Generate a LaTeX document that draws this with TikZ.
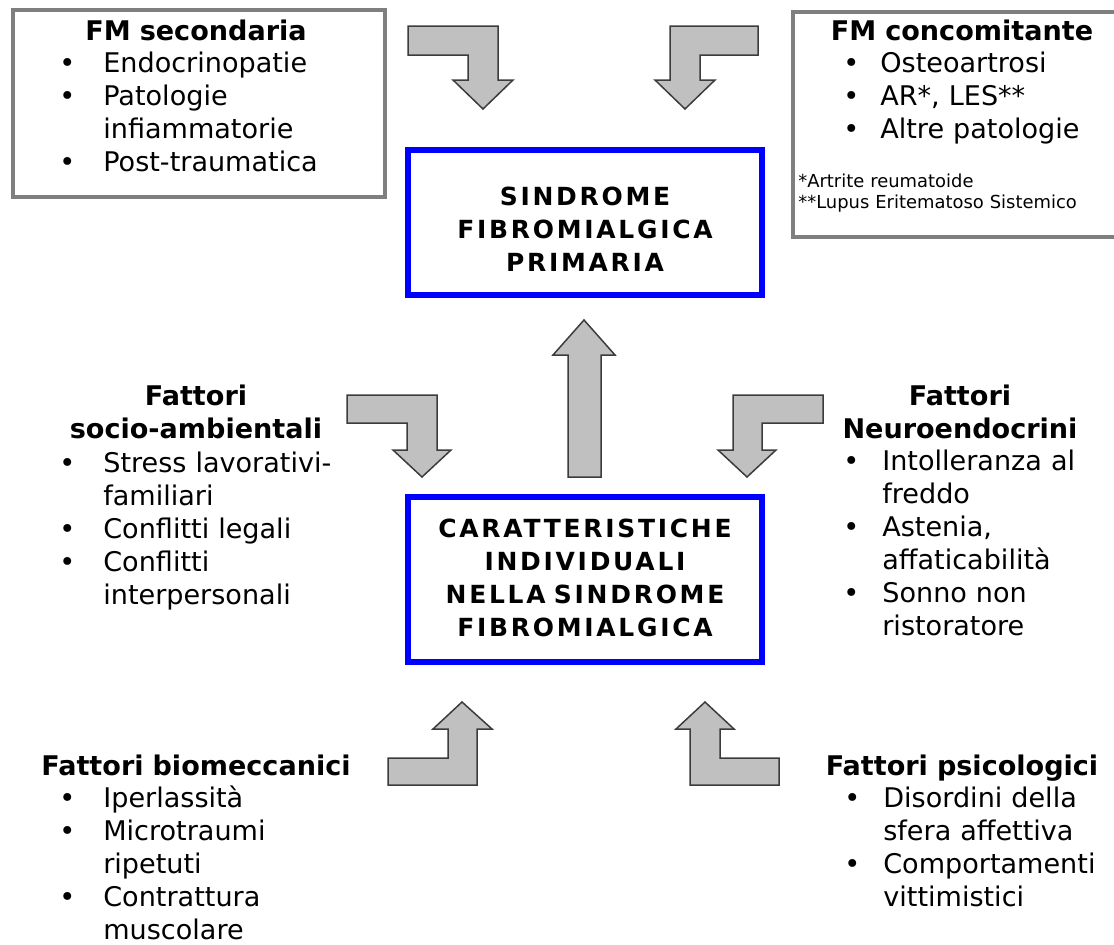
\documentclass[tikz,border=0pt]{standalone}
\usepackage{fontspec}
\setmainfont{DejaVu Sans}
\newfontfamily\capsfont{DejaVu Sans}[LetterSpace=11]
\usepackage{xcolor}
\usepackage{tikz}
\definecolor{boxgrey}{HTML}{7F7F7F}
\definecolor{arrfill}{HTML}{C0C0C0}
\definecolor{arrline}{HTML}{3C3C3C}
\definecolor{frameblue}{HTML}{0000FF}
\newlength{\bltw}
\newcommand{\blt}{\makebox[\bltw][l]{\textbullet}}
\newcommand{\hng}{\hspace*{\bltw}}
\newcommand{\bodysize}{\fontsize{15.4pt}{18.8pt}\selectfont}
\newcommand{\capsize}{\fontsize{14.2pt}{18.8pt}\selectfont}
\newcommand{\notesize}{\fontsize{10.2pt}{12pt}\selectfont}
\tikzset{
  greybox/.style={draw=boxgrey, line width=0.8mm, inner sep=0pt},
  bluebox/.style={draw=frameblue, line width=1.2mm, inner sep=0pt},
  blockarr/.style={fill=arrfill, draw=arrline, line width=0.3mm, line join=miter},
  ttl/.style={inner sep=0pt, font=\bodysize\bfseries, text width=70mm, align=center, anchor=base},
  lst/.style={inner sep=0pt, font=\bodysize, text width=58mm, align=left, anchor=base west,
    execute at begin node={\setlength{\bltw}{#1}}},
  boxtxt/.style={inner sep=0pt, font=\capsize\capsfont\bfseries, text width=70mm, align=center, anchor=base},
  note/.style={inner sep=0pt, font=\notesize, text width=62mm, align=left, anchor=base west},
}

\begin{document}
\begin{tikzpicture}[x=0.2mm, y=-0.2mm]
  \useasboundingbox (0,0) rectangle (1114,945);

  % frames
  \node[greybox, minimum width=74.4mm, minimum height=37.4mm] (secbox) at (199,103.5) {};
  \draw[greybox] (1114,12) -- (793,12) -- (793,237) -- (1114,237); % cut by the page edge
  \node[bluebox, minimum width=70.8mm, minimum height=29mm] (primbox) at (585,222.5) {};
  \node[bluebox, minimum width=70.8mm, minimum height=33mm] (caratbox) at (585,579.5) {};

  % block arrows
  \draw[blockarr] (408,26) -- (498,26) -- (498,80) -- (513,80) -- (483,109) -- (453,80)
    -- (468,80) -- (468,55) -- (408,55) -- cycle;
  \draw[blockarr] (758,26) -- (670,26) -- (670,80) -- (655,80) -- (685,109) -- (715,80)
    -- (700,80) -- (700,55) -- (758,55) -- cycle;
  \draw[blockarr] (347,395) -- (437,395) -- (437,450) -- (451,450) -- (422,477) -- (393,450)
    -- (407,450) -- (407,423) -- (347,423) -- cycle;
  \draw[blockarr] (823,395) -- (733,395) -- (733,450) -- (718,450) -- (747,477) -- (776,450)
    -- (762,450) -- (762,423) -- (823,423) -- cycle;
  \draw[blockarr] (568,477) -- (568,355) -- (553,355) -- (584,320) -- (615,355)
    -- (601,355) -- (601,477) -- cycle; % up to the primary box
  \draw[blockarr] (388,785) -- (477,785) -- (477,729) -- (492,729) -- (462,702) -- (433,729)
    -- (448,729) -- (448,758) -- (388,758) -- cycle;
  \draw[blockarr] (779,785) -- (690,785) -- (690,729) -- (676,729) -- (705,702) -- (734,729)
    -- (720,729) -- (720,758) -- (779,758) -- cycle;

  % central texts
  \node[boxtxt] (primtxt) at (585,205) {SINDROME\\ FIBROMIALGICA\\ PRIMARIA};
  \node[boxtxt] (carattxt) at (585,537) {CARATTERISTICHE\\ INDIVIDUALI\\ NELLA SINDROME\\ FIBROMIALGICA};

  % top row
  \node[ttl] (sectitle) at (196,40) {FM secondaria};
  \node[lst=8.8mm] (seclist) at (59,72) {\blt Endocrinopatie\\ \blt Patologie\\ \hng infiammatorie\\ \blt Post-traumatica};
  \node[ttl] (contitle) at (962,40) {FM concomitante};
  \node[lst=7.4mm] (conlist) at (843,72) {\blt Osteoartrosi\\ \blt AR*, LES**\\ \blt Altre patologie};
  \node[note] (connote) at (798,187) {*Artrite reumatoide\\\relax **Lupus Eritematoso Sistemico};

  % middle row
  \node[ttl] (soctitle) at (196,405) {Fattori\\ socio-ambientali};
  \node[lst=8.8mm] (soclist) at (59,472) {\blt Stress lavorativi-\\ \hng familiari\\ \blt Conflitti legali\\ \blt Conflitti\\ \hng interpersonali};
  \node[ttl] (neutitle) at (960,405) {Fattori\\ Neuroendocrini};
  \node[lst=7.8mm] (neulist) at (843,470) {\blt Intolleranza al\\ \hng freddo\\ \blt Astenia,\\ \hng affaticabilità\\ \blt Sonno non\\ \hng ristoratore};

  % bottom row
  \node[ttl] (biotitle) at (196,775) {Fattori biomeccanici};
  \node[lst=8.8mm] (biolist) at (59,807) {\blt Iperlassità\\ \blt Microtraumi\\ \hng ripetuti\\ \blt Contrattura\\ \hng muscolare};
  \node[ttl] (psititle) at (962,775) {Fattori psicologici};
  \node[lst=7.8mm] (psilist) at (844,807) {\blt Disordini della\\ \hng sfera affettiva\\ \blt Comportamenti\\ \hng vittimistici};
\end{tikzpicture}
\end{document}
